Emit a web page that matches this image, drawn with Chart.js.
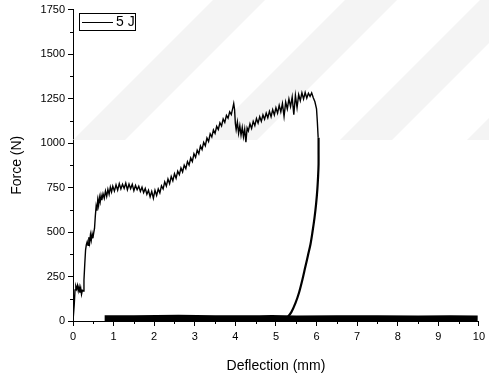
<!DOCTYPE html>
<html>
<head>
<meta charset="utf-8">
<script src="https://cdn.jsdelivr.net/npm/chart.js@4/dist/chart.umd.min.js"></script>
<style>
  html, body { margin: 0; padding: 0; background: #fff; }
  #wrap { width: 489px; height: 382px; }
</style>
</head>
<body>
<div id="wrap"><canvas id="myChart"></canvas></div>
<script>
// loading curve (deflection in mm, force in N)
var deflection = [0.00,0.03,0.05,0.07,0.09,0.11,0.13,0.15,0.17,0.19,0.21,0.23,0.25,0.27,0.29,0.31,0.33,0.35,0.37,0.39,0.41,0.43,0.45,0.47,0.49,0.51,0.53,0.55,0.57,0.59,0.61,0.63,0.65,0.67,0.69,0.71,0.74,0.77,0.80,0.83,0.86,0.89,0.92,0.95,0.98,1.02,1.06,1.10,1.14,1.18,1.22,1.26,1.30,1.34,1.38,1.42,1.46,1.50,1.54,1.58,1.62,1.66,1.70,1.74,1.78,1.82,1.86,1.90,1.94,1.98,2.02,2.06,2.10,2.14,2.18,2.22,2.26,2.30,2.34,2.38,2.42,2.46,2.50,2.54,2.58,2.62,2.66,2.70,2.74,2.78,2.82,2.86,2.90,2.94,2.98,3.02,3.06,3.10,3.14,3.18,3.22,3.26,3.30,3.34,3.38,3.42,3.46,3.50,3.54,3.58,3.62,3.66,3.70,3.74,3.78,3.82,3.86,3.90,3.94,3.96,3.98,4.00,4.02,4.05,4.08,4.11,4.14,4.17,4.20,4.23,4.26,4.29,4.32,4.36,4.40,4.44,4.48,4.52,4.56,4.60,4.64,4.68,4.72,4.76,4.80,4.84,4.88,4.92,4.96,5.00,5.04,5.08,5.12,5.16,5.20,5.24,5.28,5.32,5.36,5.40,5.44,5.48,5.52,5.56,5.60,5.64,5.68,5.72,5.76,5.80,5.84,5.88,5.92,5.96,6.00,6.02,6.04,6.05];
var force = [0,90,175,195,180,200,170,192,160,185,150,172,168,230,320,400,430,445,425,470,440,485,455,490,465,495,520,590,645,620,680,650,695,670,705,680,715,690,730,700,740,712,752,725,758,730,765,735,772,742,768,745,775,738,770,744,768,732,762,738,758,728,752,722,745,712,735,698,728,690,735,706,742,720,760,742,782,758,798,772,812,788,828,802,842,822,860,838,876,856,896,876,916,896,940,920,960,940,984,964,1004,985,1028,1008,1052,1034,1074,1054,1094,1076,1114,1096,1136,1116,1156,1140,1176,1160,1200,1222,1190,1110,1075,1118,1055,1098,1045,1088,1035,1078,1005,1085,1068,1108,1082,1122,1098,1138,1112,1148,1122,1158,1134,1168,1142,1178,1148,1188,1158,1198,1168,1212,1176,1222,1150,1230,1192,1248,1205,1258,1160,1268,1200,1272,1238,1282,1248,1284,1252,1280,1262,1282,1255,1232,1192,1120,1030];

// unloading branch back down to the axis
var unloadDeflection = [6.05,6.05,6.05,6.04,6.02,5.99,5.95,5.90,5.85,5.79,5.72,5.65,5.57,5.48,5.38,5.28,5.20];
var unloadForce = [1030,950,880,820,740,660,580,500,430,370,300,230,160,100,50,20,5];

// rebound band lying on the axis after the impact
var reboundDeflection = [0.78,1.5,2.6,3.5,4.6,4.9,5.5,6.5,7.5,8.5,9.3,9.97];
var reboundForce = [12,12,15,12,12,14,11,12,12,11,12,11];

var seriesLabel = '5 J';
var xTicks = [0,1,2,3,4,5,6,7,8,9,10];
var yTicks = [0,250,500,750,1000,1250,1500,1750];

function toPoints(xs, ys) {
    var pts = [];
    for (var i = 0; i < xs.length; i++) pts.push({x: xs[i], y: ys[i]});
    return pts;
}

var decor = {
    id: 'decor',
    beforeDatasetsDraw: function(chart) {
        // faint diagonal watermark bands
        var ctx = chart.ctx;
        ctx.save();
        ctx.fillStyle = '#f4f4f4';
        [73, 205, 340, 467].forEach(function(b) {
            ctx.beginPath();
            ctx.moveTo(b, 140);
            ctx.lineTo(b + 52, 140);
            ctx.lineTo(b + 52 + 140, 0);
            ctx.lineTo(b + 140, 0);
            ctx.closePath();
            ctx.fill();
        });
        ctx.restore();
    },
    afterDraw: function(chart) {
        var ctx = chart.ctx;
        var xs = chart.scales.x, ys = chart.scales.y;
        var area = chart.chartArea;
        ctx.save();
        ctx.strokeStyle = '#000';
        ctx.lineWidth = 1;
        // minor ticks
        ctx.beginPath();
        for (var v = 0.5; v < 10; v += 1) {
            var px = Math.round(xs.getPixelForValue(v)) + 0.5;
            ctx.moveTo(px, area.bottom);
            ctx.lineTo(px, area.bottom + 3);
        }
        for (var w = 125; w < 1750; w += 250) {
            var py = Math.round(ys.getPixelForValue(w)) + 0.5;
            ctx.moveTo(area.left, py);
            ctx.lineTo(area.left - 3, py);
        }
        ctx.stroke();
        // legend box
        ctx.strokeRect(79.5, 13.5, 56, 17);
        ctx.beginPath();
        ctx.moveTo(82, 22.5);
        ctx.lineTo(113, 22.5);
        ctx.stroke();
        ctx.fillStyle = '#000';
        ctx.font = '14px "Liberation Sans", Arial, sans-serif';
        ctx.textBaseline = 'middle';
        ctx.fillText(seriesLabel, 116, 22.5);
        ctx.restore();
    }
};

var tickFont = {family: '"Liberation Sans", Arial, sans-serif', size: 11};
var titleFont = {family: '"Liberation Sans", Arial, sans-serif', size: 14};

function plain(v) { return String(v); }

function createChart() {
    var ctx = document.getElementById('myChart');
    var myChart = new Chart(ctx, {
        type: 'scatter',
        data: {
            datasets: [{
                label: seriesLabel,
                data: toPoints(deflection, force),
                showLine: true,
                borderColor: '#000',
                borderWidth: 1.4,
                pointRadius: 0,
                tension: 0
            }, {
                label: '',
                data: toPoints(unloadDeflection, unloadForce),
                showLine: true,
                borderColor: '#000',
                borderWidth: 2.2,
                pointRadius: 0,
                tension: 0.3
            }, {
                label: '',
                data: toPoints(reboundDeflection, reboundForce),
                showLine: true,
                borderColor: '#000',
                borderWidth: 7,
                pointRadius: 0,
                tension: 0
            }]
        },
        options: {
            responsive: true,
            maintainAspectRatio: false,
            animation: false,
            layout: { padding: {top: 8, right: 7, left: 0, bottom: 0} },
            plugins: {
                legend: { display: false },
                tooltip: { enabled: false }
            },
            scales: {
                x: {
                    type: 'linear',
                    min: 0,
                    max: 10,
                    afterFit: function(s) { s.height = 61; },
                    afterBuildTicks: function(s) {
                        s.ticks = xTicks.map(function(v) { return {value: v}; });
                    },
                    ticks: {
                        autoSkip: false,
                        maxRotation: 0,
                        padding: 4,
                        color: '#000',
                        font: tickFont,
                        callback: plain
                    },
                    grid: {
                        drawOnChartArea: false,
                        tickLength: 5,
                        tickColor: '#000'
                    },
                    border: { color: '#000', width: 1 },
                    title: {
                        display: true,
                        text: 'Deflection (mm)',
                        color: '#000',
                        font: titleFont,
                        padding: {top: 0, bottom: 7}
                    }
                },
                y: {
                    type: 'linear',
                    min: 0,
                    max: 1750,
                    afterFit: function(s) { s.width = 73; },
                    afterBuildTicks: function(s) {
                        s.ticks = yTicks.map(function(v) { return {value: v}; });
                    },
                    ticks: {
                        autoSkip: false,
                        padding: 3,
                        color: '#000',
                        font: tickFont,
                        callback: plain
                    },
                    grid: {
                        drawOnChartArea: false,
                        tickLength: 5,
                        tickColor: '#000'
                    },
                    border: { color: '#000', width: 1 },
                    title: {
                        display: true,
                        text: 'Force (N)',
                        color: '#000',
                        font: titleFont,
                        padding: {top: 9, bottom: 0}
                    }
                }
            }
        },
        plugins: [decor]
    });
}

createChart();
</script>
</body>
</html>
